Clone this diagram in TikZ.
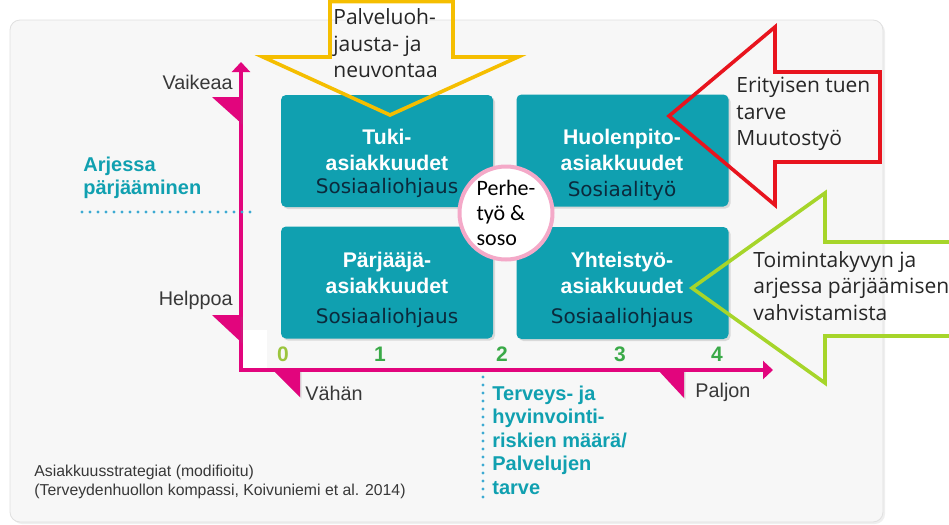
\documentclass[tikz,border=0pt]{standalone}
\usepackage{fontspec}
\setmainfont{Liberation Sans}
\newfontfamily\tyofont{DejaVu Sans}
\newfontfamily\nuolifont{Open Sans}
\newfontfamily\perhefont{Carlito}
\usetikzlibrary{arrows.meta,shadows}

\definecolor{taustaharmaa}{HTML}{F7F7F7}
\definecolor{kompassiteal}{HTML}{10A0B0}
\definecolor{akselipink}{HTML}{E2057D}
\definecolor{harmaateksti}{HTML}{383838}
\definecolor{tyoteksti}{HTML}{0B2A3C}
\definecolor{lukuvihrea}{HTML}{3AAA48}
\definecolor{nollavihrea}{HTML}{9BC53D}
\definecolor{pistesini}{HTML}{3DAAD2}
\definecolor{perhepinkki}{HTML}{F4A9C8}
\definecolor{keltainen}{HTML}{F5BE00}
\definecolor{punainen}{HTML}{E8141E}
\definecolor{limevihrea}{HTML}{A6D52A}

\tikzset{
  tausta/.style={fill=taustaharmaa, draw=black!12, rounded corners=5pt,
    drop shadow={opacity=0.12, shadow xshift=1pt, shadow yshift=-1pt}},
  akseli/.style={draw=akselipink, line width=1.8pt, line join=miter},
  lippu/.style={fill=akselipink, drop shadow={opacity=0.2, shadow xshift=0.8pt, shadow yshift=-0.8pt}},
  akselinimi/.style={text=harmaateksti, font=\fontsize{9.9}{12}\selectfont, inner sep=0pt},
  luku/.style={text=lukuvihrea, font=\fontsize{10.5}{12}\selectfont\bfseries, inner sep=0pt},
  asiakkuus/.style={fill=kompassiteal, rounded corners=2.5pt, minimum width=106pt, minimum height=56pt,
    drop shadow={opacity=0.25, shadow xshift=1pt, shadow yshift=-1pt}},
  otsikko/.style={text=white, font=\fontsize{10.6}{13}\selectfont\bfseries, align=center, inner sep=0pt},
  tyomuoto/.style={text=tyoteksti, font=\tyofont\fontsize{10}{12}\selectfont, inner sep=0pt},
  perhepallo/.style={circle, draw=perhepinkki, line width=2pt, fill=white, minimum size=46.5pt,
    inner sep=0pt, align=left, font=\perhefont\fontsize{11}{12.5}\selectfont},
  tealteksti/.style={text=kompassiteal, font=\fontsize{10}{11.75}\selectfont\bfseries, align=left,
    anchor=west, inner sep=0pt},
  pisteviiva/.style={draw=pistesini, line width=1.6pt, line cap=round, dash pattern=on 0pt off 4pt},
  nuoli/.style={line width=1.8pt, line join=miter},
  nuoliteksti/.style={text=black!85, font=\nuolifont\fontsize{10.5}{13.2}\selectfont, align=left,
    anchor=west, inner sep=0pt},
  lahde/.style={text=harmaateksti, font=\fontsize{7.9}{9.5}\selectfont, align=left, anchor=west, inner sep=0pt}
}

\begin{document}
\begin{tikzpicture}[x=0.5pt, y=-0.5pt]
\useasboundingbox (0,0) rectangle (949,525);
\fill[white] (0,0) rectangle (949,525);

% tausta
\path[tausta] (10,20) rectangle (883,522);
\fill[white] (243,330) rectangle (267,368);

% akselit ja liput
\coordinate (origo) at (241,370);
\coordinate (ylos) at (241,62);
\coordinate (oikea) at (773,370);
\draw[akseli, {Triangle[width=9pt,length=5pt]}-{Triangle[width=9pt,length=5pt]}] (ylos) -- (origo) -- (oikea);
\path[lippu] (212,97) -- (241,97) -- (241,123) -- cycle;
\path[lippu] (212,315) -- (241,315) -- (241,342) -- cycle;
\path[lippu] (273,370) -- (300,370) -- (300,397) -- cycle;
\path[lippu] (658,370) -- (684,370) -- (684,398) -- cycle;

\node[akselinimi, anchor=east] (vaikeaa) at (233,82) {Vaikeaa};
\node[akselinimi, anchor=east] (helppoa) at (233,300) {Helppoa};
\node[akselinimi, anchor=west] (vahan) at (305,393) {Vähän};
\node[akselinimi, anchor=west] (paljon) at (695,392) {Paljon};

\node[luku, text=nollavihrea] (luku0) at (283,354) {0};
\foreach \n/\x in {1/380,2/502,3/620,4/717}
  \node[luku] (luku\n) at (\x,354) {\n};

% pisteviivat
\draw[pisteviiva] (82,212) -- (257,212);
\draw[pisteviiva] (483,377) -- (483,500);
\node[tealteksti] (arjessa) at (83,178) {Arjessa\\pärjääminen};
\node[tealteksti] (terveys) at (492,440) {Terveys- ja\\hyvinvointi-\\riskien määrä/\\Palvelujen\\tarve};

% asiakkuudet
\node[asiakkuus] (tuki) at (387,151) {};
\node[asiakkuus] (huolenpito) at (622.5,150.5) {};
\node[asiakkuus] (parjaaja) at (387,282.5) {};
\node[asiakkuus] (yhteistyo) at (622.5,283) {};

\node[otsikko] (tukiotsikko) at (387,150) {Tuki-\\asiakkuudet};
\node[tyomuoto] (tukityo) at (387,188) {Sosiaaliohjaus};
\node[otsikko] (huolenpitootsikko) at (622,150) {Huolenpito-\\asiakkuudet};
\node[tyomuoto] (huolenpitotyo) at (622,191) {Sosiaalityö};
\node[otsikko] (parjaajaotsikko) at (387,272.5) {Pärjääjä-\\asiakkuudet};
\node[tyomuoto] (parjaajatyo) at (387,318) {Sosiaaliohjaus};
\node[otsikko] (yhteistyootsikko) at (622,273) {Yhteistyö-\\asiakkuudet};
\node[tyomuoto] (yhteistyotyo) at (622,318) {Sosiaaliohjaus};

\node[perhepallo] (perhe) at (506,213) {Perhe-\\työ \&\\soso};

% nuolet
\draw[nuoli, draw=keltainen] (330,1.5) -- (330,57) -- (263,57) -- (390,115) -- (518,57) -- (453,57) -- (453,1.5) -- cycle;
\draw[nuoli, draw=punainen] (775,27) -- (775,72) -- (880,72) -- (880,162) -- (775,162) -- (775,205) -- (669,116) -- cycle;
\draw[nuoli, draw=limevihrea] (962,242) -- (825,242) -- (825,193) -- (692,288) -- (825,383) -- (825,336) -- (962,336);

\node[nuoliteksti] (palveluohjaus) at (333,43.5) {Palveluoh-\\jausta- ja\\neuvontaa};
\node[nuoliteksti] (erityinen) at (736,114) {Erityisen tuen\\tarve\\Muutostyö};
\node[nuoliteksti] (toimintakyky) at (753,286) {Toimintakyvyn ja\\arjessa pärjäämisen\\vahvistamista};

\node[lahde] (lahde) at (34,482) {Asiakkuusstrategiat (modifioitu)\\(Terveydenhuollon kompassi, Koivuniemi et al. 2014)};
\end{tikzpicture}
\end{document}
